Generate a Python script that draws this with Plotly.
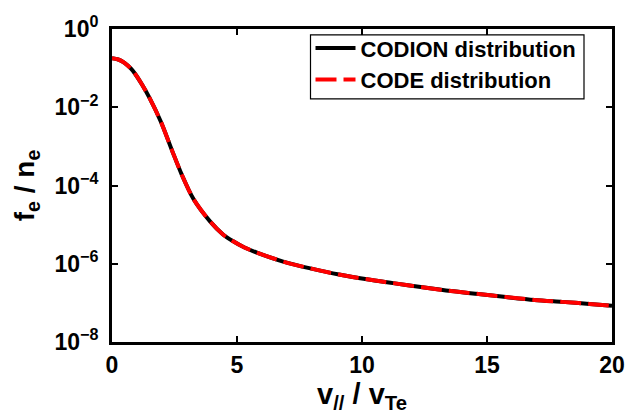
import plotly.graph_objects as go

# Parallel velocity normalised to the thermal speed
v_par = [0, 0.25, 0.5, 0.75, 0.9, 1.2, 1.49, 1.96, 2.40, 2.79, 3.26, 3.93,
         4.44, 4.83, 5.3, 5.82, 6.88, 7.98, 9.08, 10.2, 11.24, 12.42, 13.56,
         14.66, 15.76, 16.9, 18.0, 19.1, 20.0]

# Normalised electron distribution f_e / n_e
f_codion = [0.178, 0.166, 0.137, 0.098, 0.075, 0.038, 0.0178, 4.2e-3, 7.9e-4,
            1.9e-4, 4.5e-5, 1.19e-5, 5.6e-6, 3.8e-6, 2.6e-6, 1.9e-6, 1.12e-6,
            7.5e-7, 5.3e-7, 4.0e-7, 3.2e-7, 2.5e-7, 2.0e-7, 1.68e-7, 1.41e-7,
            1.19e-7, 1.06e-7, 9.4e-8, 8.4e-8]
f_code = [0.178, 0.166, 0.137, 0.098, 0.075, 0.038, 0.0178, 4.2e-3, 7.9e-4,
          1.9e-4, 4.5e-5, 1.19e-5, 5.6e-6, 3.8e-6, 2.6e-6, 1.9e-6, 1.12e-6,
          7.5e-7, 5.3e-7, 4.0e-7, 3.2e-7, 2.5e-7, 2.0e-7, 1.68e-7, 1.41e-7,
          1.19e-7, 1.06e-7, 9.4e-8, 8.4e-8]

x_ticks = [0, 5, 10, 15, 20]
y_tick_exp = [0, -2, -4, -6, -8]

FONT = "Liberation Sans, Arial, sans-serif"

fig = go.Figure()
fig.add_trace(go.Scatter(
    x=v_par, y=f_codion, mode="lines", name="CODION distribution",
    line=dict(color="black", width=4, shape="spline", smoothing=0.8),
))
fig.add_trace(go.Scatter(
    x=v_par, y=f_code, mode="lines", name="CODE distribution",
    line=dict(color="#ff0000", width=4, dash="21px,7px", shape="spline", smoothing=0.8),
))

# Legend frame (white box with thin black border), drawn under the legend entries
fig.add_shape(
    type="rect", xref="paper", yref="paper",
    x0=0.397, x1=0.944, y0=0.777, y1=0.981,
    line=dict(color="black", width=1.2), fillcolor="white", layer="below",
)

axis_common = dict(
    showline=True, linecolor="black", linewidth=3, mirror="ticks",
    ticks="inside", ticklen=6, tickwidth=2, tickcolor="black",
    showgrid=False, zeroline=False,
    tickfont=dict(family=FONT, size=23, color="black", weight="bold"),
)

fig.update_layout(
    width=637, height=416,
    margin=dict(l=112, r=16, t=23, b=74),
    paper_bgcolor="white", plot_bgcolor="white",
    font=dict(family=FONT, color="black", weight="bold"),
    showlegend=True,
    legend=dict(
        x=0.397, y=1.006, xanchor="left", yanchor="top",
        bgcolor="rgba(0,0,0,0)", borderwidth=0,
        font=dict(family=FONT, size=22, color="black", weight="bold"),
        tracegroupgap=0, itemwidth=40,
    ),
    xaxis=dict(
        range=[0, 20], tickvals=x_ticks,
        ticktext=[str(t) for t in x_ticks],
        title=dict(text="v<sub>//</sub> / v<sub>Te</sub>",
                   font=dict(family=FONT, size=29, color="black", weight="bold"),
                   standoff=3),
        **axis_common,
    ),
    yaxis=dict(
        type="log", range=[-8, 0],
        tickvals=[10 ** e for e in y_tick_exp],
        ticktext=["10<sup>%s</sup>" % (str(e) if e == 0 else "\u2212%d" % -e) for e in y_tick_exp],
        ticklabelstandoff=6,
        title=dict(text="f<sub>e</sub> / n<sub>e</sub>",
                   font=dict(family=FONT, size=28, color="black", weight="bold"),
                   standoff=12),
        **axis_common,
    ),
)

fig.write_html("out.html")
